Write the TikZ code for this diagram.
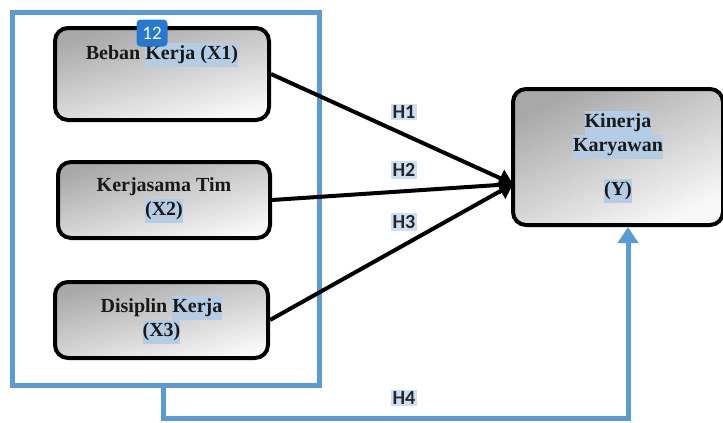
\documentclass[tikz,border=0pt]{standalone}
\usepackage{fontspec}
\setmainfont{Liberation Serif}
\newfontfamily\labelfont{Carlito}
\usetikzlibrary{arrows.meta,fit,shapes}
\definecolor{frameblue}{RGB}{91,155,213}
\definecolor{badgeblue}{RGB}{38,120,210}
\definecolor{markblue}{RGB}{180,204,228}
\definecolor{hypblue}{RGB}{204,224,245}
\definecolor{boxdark}{RGB}{168,168,168}
\definecolor{boxlight}{RGB}{248,248,248}
\newcommand{\mk}[1]{{\setlength{\fboxsep}{0pt}\colorbox{markblue}{\strut #1}}}
\tikzset{%
  % Specifications for style of nodes:
    var/.style = {rectangle, rounded corners=6.5pt, draw=black, line width=2pt,
                  top color=boxdark, bottom color=boxlight, shading angle=15,
                  align=center, text=black!90,
                  font=\bfseries\fontsize{10}{12}\selectfont},
    hyp/.style = {fill=hypblue, inner sep=1pt, text=black!85,
                  font=\labelfont\bfseries\fontsize{10}{12}\selectfont},
    effect/.style = {line width=2pt, -{Triangle[length=7pt,width=9pt]}},
    grpframe/.style = {draw=frameblue, line width=2.5pt}%
}
\begin{document}
\begin{tikzpicture}[x=0.5pt,y=-0.5pt]
\useasboundingbox (0,0) rectangle (723,423);

\node[grpframe, fit={(12,12) (319,385)}, inner sep=0pt] (grp) {};

\node[var, minimum width=107pt, minimum height=46pt] (x1) at (162,74)
  {Beban \mk{Kerja (X1)}\\[7pt]\strut};
\node[var, minimum width=106pt, minimum height=38pt] (x2) at (164,200)
  {Kerjasama Tim\\\mk{(X2)}};
\node[var, minimum width=106.5pt, minimum height=38pt] (x3) at (161.5,320)
  {Disiplin \mk{Kerja}\\\mk{(X3)}};
\node[var, minimum width=105pt, minimum height=68pt, shading angle=25] (y) at (618,157)
  {\mk{Kinerja}\\\mk{Karyawan}\\[10pt]\mk{(Y)}};

\node[fill=badgeblue, rounded corners=2pt, minimum width=15.5pt, minimum height=13.5pt,
  inner sep=0pt, text=white, font=\labelfont\fontsize{9.5}{10}\selectfont] (badge) at (152,33) {12};

\coordinate (tip) at (513,184);
\draw[effect] (x1.east) -- (tip);
\draw[effect] (x2.east) -- (tip);
\draw[effect] (x3.east) -- (tip);

\node[hyp] (h1) at (404,112) {H1};
\node[hyp] (h2) at (404,170) {H2};
\node[hyp] (h3) at (404,222) {H3};
\node[hyp] (h4) at (404,398) {H4};

\coordinate (bendA) at (163,418);
\coordinate (bendB) at (628,418);
\draw[grpframe, -{Triangle[length=8pt,width=10pt]}]
  (grp.south -| bendA) -- (bendA) -- (bendB) -- (bendB |- y.south);

\end{tikzpicture}
\end{document}
